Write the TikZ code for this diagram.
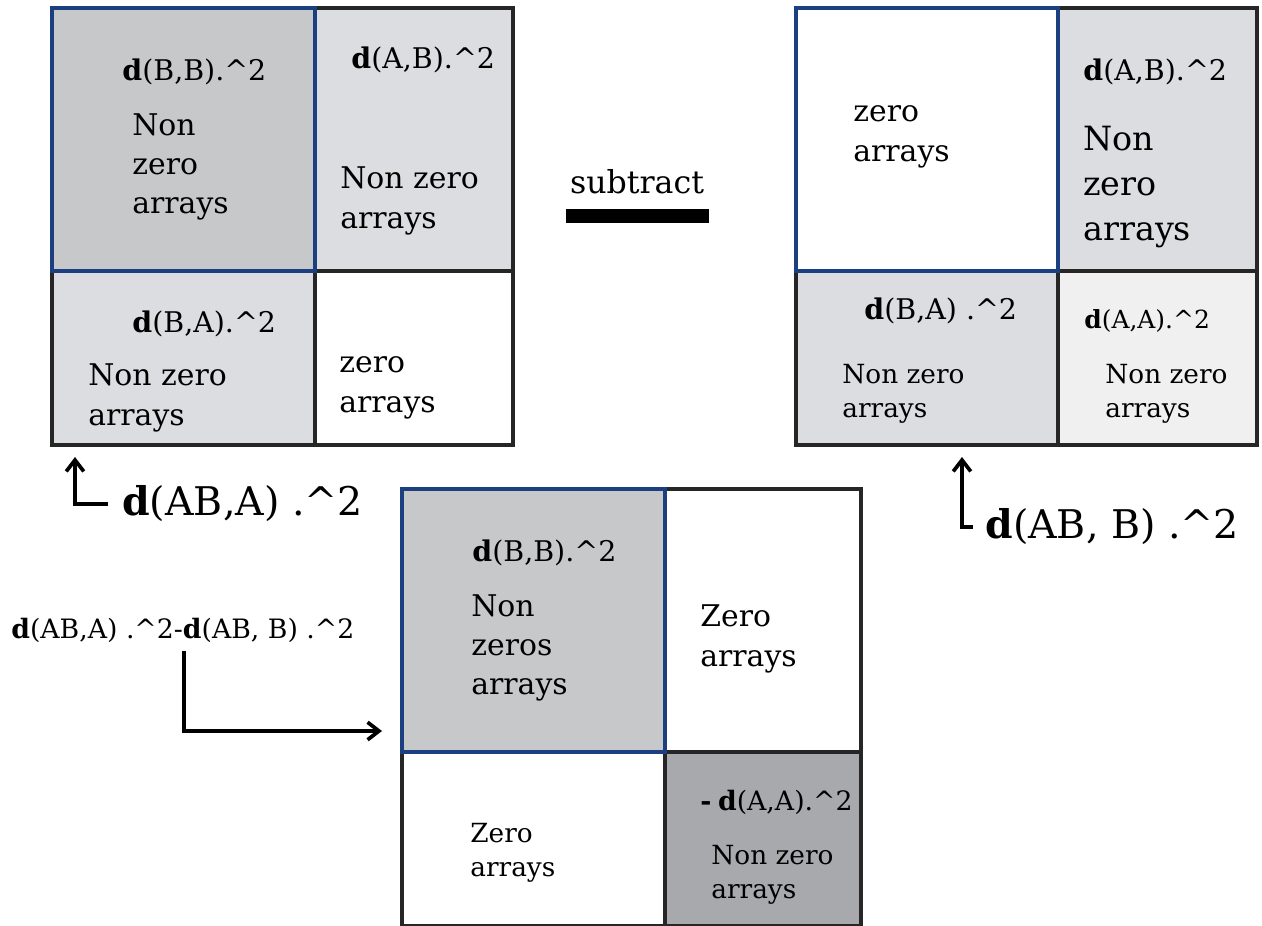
\documentclass[tikz,border=0pt]{standalone}
\usepackage{fontspec}
\setmainfont{DejaVu Serif}
\usetikzlibrary{arrows.meta}
\definecolor{navy}{HTML}{1C3F7F}
\definecolor{edge}{HTML}{262626}
\definecolor{darkg}{HTML}{C7C8CA}
\definecolor{lightg}{HTML}{DCDDE0}
\definecolor{paleg}{HTML}{EFF0EF}
\definecolor{midg}{HTML}{A8A9AC}
\newcommand{\sq}{.\textasciicircum2}
\newcommand{\bd}{\textbf{d}}
\tikzset{
  txt/.style={anchor=west, align=left, inner sep=0pt, font=\fontsize{17}{22.4}\selectfont},
  txtb/.style={anchor=west, align=left, inner sep=0pt, font=\fontsize{19}{25.6}\selectfont},
  txts/.style={anchor=west, align=left, inner sep=0pt, font=\fontsize{15}{19.4}\selectfont},
  dlab/.style={anchor=west, inner sep=0pt, font=\fontsize{16.2}{19}\selectfont},
  dlabs/.style={anchor=west, inner sep=0pt, font=\fontsize{14.2}{17}\selectfont},
  biglab/.style={anchor=west, inner sep=0pt, font=\fontsize{22.5}{26}\selectfont},
  smalllab/.style={anchor=west, inner sep=0pt, font=\fontsize{15.2}{18}\selectfont},
  grid/.style={draw=edge, line width=2.1pt},
  bluebox/.style={draw=navy, line width=1.9pt},
  arr/.style={line width=2.1pt, -{Straight Barb[length=6.5pt,width=10pt,line width=2.1pt]}},
}
\begin{document}
\begin{tikzpicture}[x=0.02cm, y=-0.02cm]
\useasboundingbox (0,0) rectangle (1262,926);
\clip (0,0) rectangle (1262,926);
% ---------- left matrix ----------
\fill[lightg] (52,8) rectangle (513,445);
\fill[darkg] (52,8) rectangle (315,271);
\fill[white] (315,271) rectangle (513,445);
\draw[grid] (52,8) rectangle (513,445);
\draw[grid] (315,8) -- (315,445);
\draw[grid] (52,271) -- (513,271);
\draw[bluebox] (52,8) rectangle (315,271);
% ---------- right matrix ----------
\fill[lightg] (796,8) rectangle (1257,445);
\fill[white] (796,8) rectangle (1058,271);
\fill[paleg] (1058,271) rectangle (1257,445);
\draw[grid] (796,8) rectangle (1257,445);
\draw[grid] (1058,8) -- (1058,445);
\draw[grid] (796,271) -- (1257,271);
\draw[bluebox] (796,8) rectangle (1058,271);
% ---------- bottom matrix ----------
\fill[white] (402,489) rectangle (861,926);
\fill[darkg] (402,489) rectangle (665,752);
\fill[midg] (665,752) rectangle (861,926);
\draw[grid] (402,489) rectangle (861,926);
\draw[grid] (665,489) -- (665,926);
\draw[grid] (402,752) -- (861,752);
\draw[bluebox] (402,489) rectangle (665,752);
% ---------- texts: left matrix ----------
\node[dlab] (l1) at (122,72) {\bd(B,B)\sq};
\node[txt] (l2) at (132,167) {Non\\zero\\arrays};
\node[dlab] (l3) at (351,60) {\bd(A,B)\sq};
\node[txt] (l4) at (340,201) {Non zero\\arrays};
\node[dlab] (l5) at (132,324) {\bd(B,A)\sq};
\node[txt] (l6) at (88,398) {Non zero\\arrays};
\node[txt] (l7) at (339,388) {zero\\arrays};
% ---------- texts: right matrix ----------
\node[txt] (r1) at (853,137) {zero\\arrays};
\node[dlab] (r2) at (1083,72) {\bd(A,B)\sq};
\node[txtb] (r3) at (1083,187) {Non\\zero\\arrays};
\node[dlab] (r4) at (864,311) {\bd(B,A) \sq};
\node[txts] (r5) at (842,394) {Non zero\\arrays};
\node[dlabs] (r6) at (1084,321) {\bd(A,A)\sq};
\node[txts] (r7) at (1105,394) {Non zero\\arrays};
% ---------- texts: bottom matrix ----------
\node[dlab] (b1) at (472,553) {\bd(B,B)\sq};
\node[txt] (b2) at (471,648) {Non\\zeros\\arrays};
\node[txt] (b3) at (700,639) {Zero\\arrays};
\node[txts] (b4) at (470,853) {Zero\\arrays};
\node[anchor=west, inner sep=0pt, font=\fontsize{15.2}{18}\selectfont] (b5) at (700,802) {\textbf{-}\hspace{0.25em}\bd(A,A)\sq};
\node[txts] (b6) at (711,875) {Non zero\\arrays};
% ---------- subtract ----------
\node[font=\fontsize{18}{21}\selectfont, inner sep=0pt] (sub) at (637,182) {subtract};
\fill (566,209) rectangle (709,223);
% ---------- labels and arrows ----------
\node[biglab] (lab1) at (122,504) {\bd(AB,A) \sq};
\node[biglab] (lab2) at (985,527) {\bd(AB, B) \sq};
\node[smalllab] (lab3) at (11,630) {\bd(AB,A) \sq-\bd(AB, B) \sq};
\coordinate (t1) at (75,457);
\coordinate (t2) at (962,457);
\coordinate (s3) at (184,0);
\coordinate (t3) at (382,731);
\draw[arr] ([xshift=-8pt]lab1.west) -| (t1);
\draw[arr] ([xshift=-7pt]lab2.west) -| (t2);
\draw[arr] ([yshift=-5pt]lab3.south -| s3) |- (t3);
\end{tikzpicture}
\end{document}
